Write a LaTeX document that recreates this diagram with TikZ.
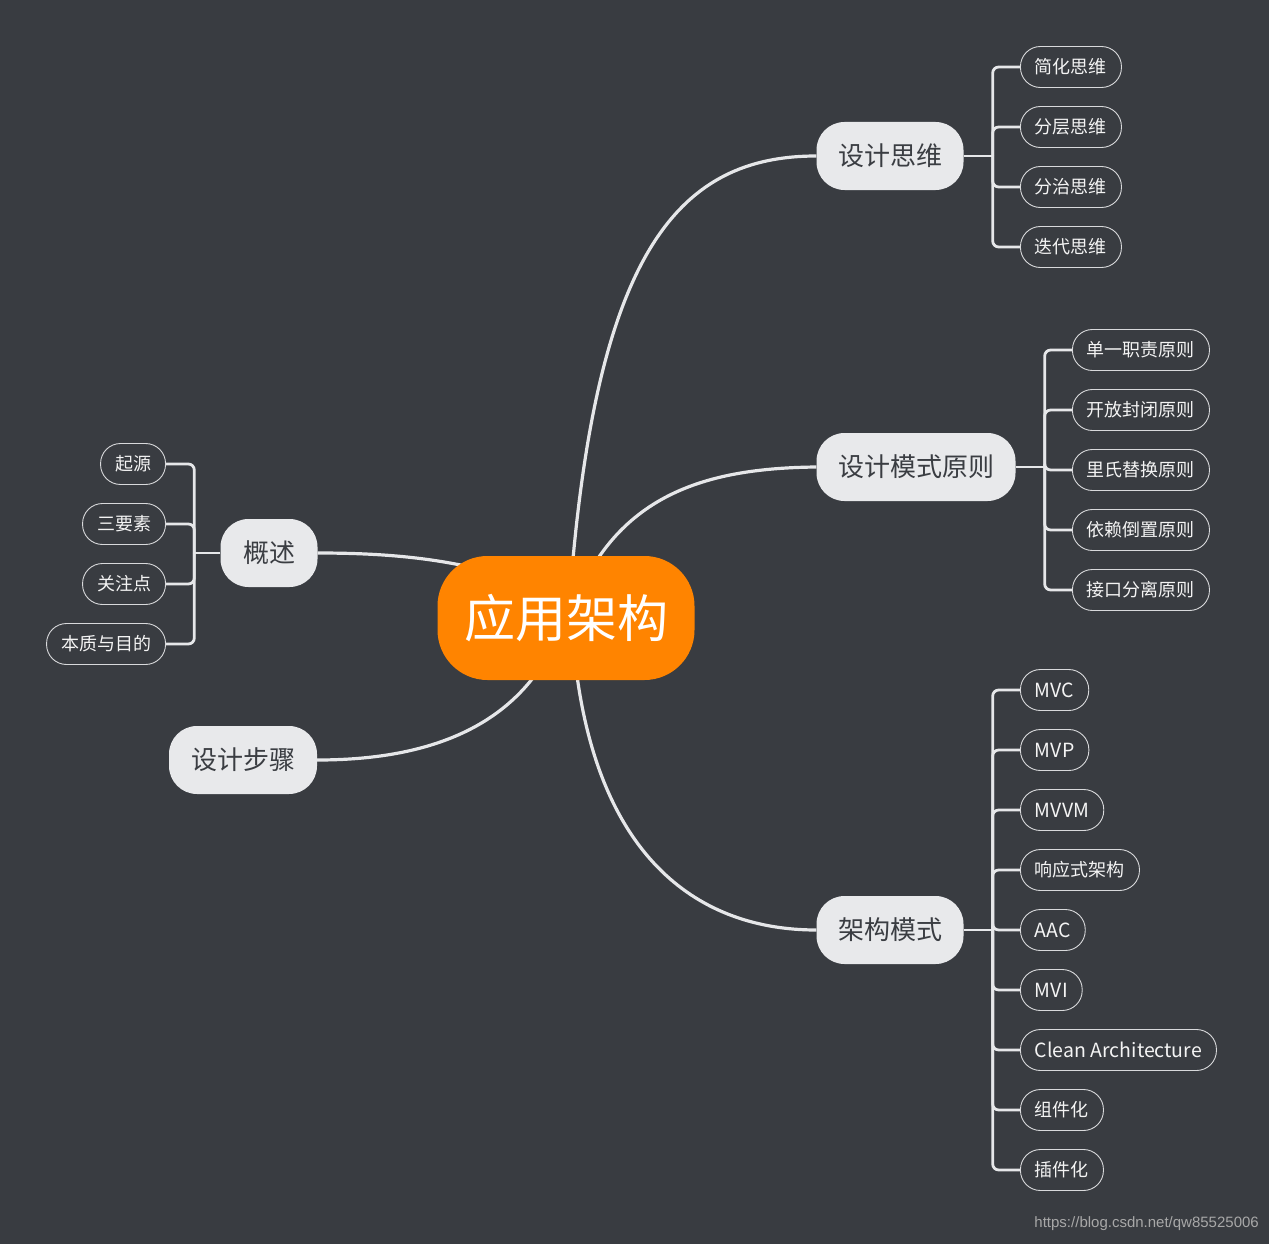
\documentclass[tikz,border=0pt]{standalone}
\usepackage{fontspec}
\setmainfont{Noto Sans CJK SC}
\newfontfamily\wmfont{Liberation Sans}
\definecolor{bgC}{HTML}{393C41}
\definecolor{centerC}{HTML}{FF8400}
\definecolor{topicC}{HTML}{E8E9EB}
\definecolor{topicText}{HTML}{3A3D42}
\definecolor{lineC}{HTML}{E6E7E9}
\definecolor{subBorder}{HTML}{D8D9DB}
\definecolor{subText}{HTML}{F4F4F4}
\definecolor{wmC}{HTML}{A8A8A8}
\pgfdeclarelayer{back}
\pgfdeclarelayer{links}
\pgfsetlayers{back,links,main}
\begin{document}
\begin{tikzpicture}[x=1pt,y=-1pt,
  central/.style={fill=centerC, rounded corners=50pt, minimum width=257pt, minimum height=124pt, text=white, font=\fontsize{51}{51}\selectfont, inner sep=0pt},
  maintopic/.style={fill=topicC, rounded corners=28pt, minimum height=68pt, text=topicText, font=\fontsize{26}{26}\selectfont, inner sep=0pt},
  subtopic/.style={draw=subBorder, line width=0.9pt, rounded corners=20pt, minimum height=41pt, text=subText, font=\fontsize{18}{18}\selectfont, inner xsep=14.5pt, inner ysep=0pt},
  latin/.style={font=\fontsize{19.5}{19.5}\selectfont},
  link/.style={draw=lineC, line width=3.2pt},
  branch/.style={draw=lineC, line width=2.8pt, rounded corners=6pt}]
\begin{pgfonlayer}{back}
\fill[bgC] (0,0) rectangle (1269,1244);
\end{pgfonlayer}
\useasboundingbox (0,0) rectangle (1269,1244);

% central and main topics
\node[central] (c) at (566,618) {应用架构};
\node[maintopic, minimum width=147pt] (t1) at (890,156) {设计思维};
\node[maintopic, minimum width=199pt] (t2) at (916,467) {设计模式原则};
\node[maintopic, minimum width=147pt] (t3) at (890,930) {架构模式};
\node[maintopic, minimum width=97pt] (t4) at (269,553) {概述};
\node[maintopic, minimum width=148pt] (t5) at (243,760) {设计步骤};

% subtopics of 设计思维
\node[subtopic, anchor=west] (s11) at (1020,67) {简化思维};
\node[subtopic, anchor=west] (s12) at (1020,127) {分层思维};
\node[subtopic, anchor=west] (s13) at (1020,187) {分治思维};
\node[subtopic, anchor=west] (s14) at (1020,247) {迭代思维};

% subtopics of 设计模式原则
\node[subtopic, anchor=west] (s21) at (1072,350) {单一职责原则};
\node[subtopic, anchor=west] (s22) at (1072,410) {开放封闭原则};
\node[subtopic, anchor=west] (s23) at (1072,470) {里氏替换原则};
\node[subtopic, anchor=west] (s24) at (1072,530) {依赖倒置原则};
\node[subtopic, anchor=west] (s25) at (1072,590) {接口分离原则};

% subtopics of 架构模式
\node[subtopic, latin, anchor=west] (s31) at (1020,690) {MVC};
\node[subtopic, latin, anchor=west] (s32) at (1020,750) {MVP};
\node[subtopic, latin, anchor=west] (s33) at (1020,810) {MVVM};
\node[subtopic, anchor=west] (s34) at (1020,870) {响应式架构};
\node[subtopic, latin, anchor=west] (s35) at (1020,930) {AAC};
\node[subtopic, latin, anchor=west] (s36) at (1020,990) {MVI};
\node[subtopic, latin, anchor=west] (s37) at (1020,1050) {Clean Architecture};
\node[subtopic, anchor=west] (s38) at (1020,1110) {组件化};
\node[subtopic, anchor=west] (s39) at (1020,1170) {插件化};

% subtopics of 概述
\node[subtopic, anchor=east] (s41) at (166,464) {起源};
\node[subtopic, anchor=east] (s42) at (166,524) {三要素};
\node[subtopic, anchor=east] (s43) at (166,584) {关注点};
\node[subtopic, anchor=east] (s44) at (166,644) {本质与目的};

% watermark
\node[anchor=east, inner sep=0pt, text=wmC, font=\wmfont\fontsize{15}{15}\selectfont] (wm) at (1259,1224) {https://blog.csdn.net/qw85525006};

% bracket points
\coordinate (b1) at ([xshift=29pt]t1.east);
\coordinate (b2) at ([xshift=29pt]t2.east);
\coordinate (b3) at ([xshift=29pt]t3.east);
\coordinate (b4) at ([xshift=-26pt]t4.west);

\begin{pgfonlayer}{links}
% curved links from centre
\draw[link] ([xshift=6pt,yshift=-14pt]c.north) .. controls (600,250) and (680,156) .. (t1.west);
\draw[link] ([xshift=26pt,yshift=-12pt]c.north) .. controls (640,488) and (720,468) .. (t2.west);
\draw[link] ([xshift=10pt,yshift=12pt]c.south) .. controls (600,860) and (700,930) .. (t3.west);
\draw[link] (470,567) .. controls (420,556) and (370,553) .. (t4.east);
\draw[link] ([xshift=-26pt,yshift=12pt]c.south) .. controls (490,742) and (400,760) .. (t5.east);

% brackets
\draw[branch] (t1.east) -- (b1);
\foreach \s in {s11,s12,s13,s14} \draw[branch] (b1) |- (\s.west);
\draw[branch] (t2.east) -- (b2);
\foreach \s in {s21,s22,s23,s24,s25} \draw[branch] (b2) |- (\s.west);
\draw[branch] (t3.east) -- (b3);
\foreach \s in {s31,s32,s33,s34,s35,s36,s37,s38,s39} \draw[branch] (b3) |- (\s.west);
\draw[branch] (t4.west) -- (b4);
\foreach \s in {s41,s42,s43,s44} \draw[branch] (b4) |- (\s.east);
\end{pgfonlayer}
\end{tikzpicture}
\end{document}
